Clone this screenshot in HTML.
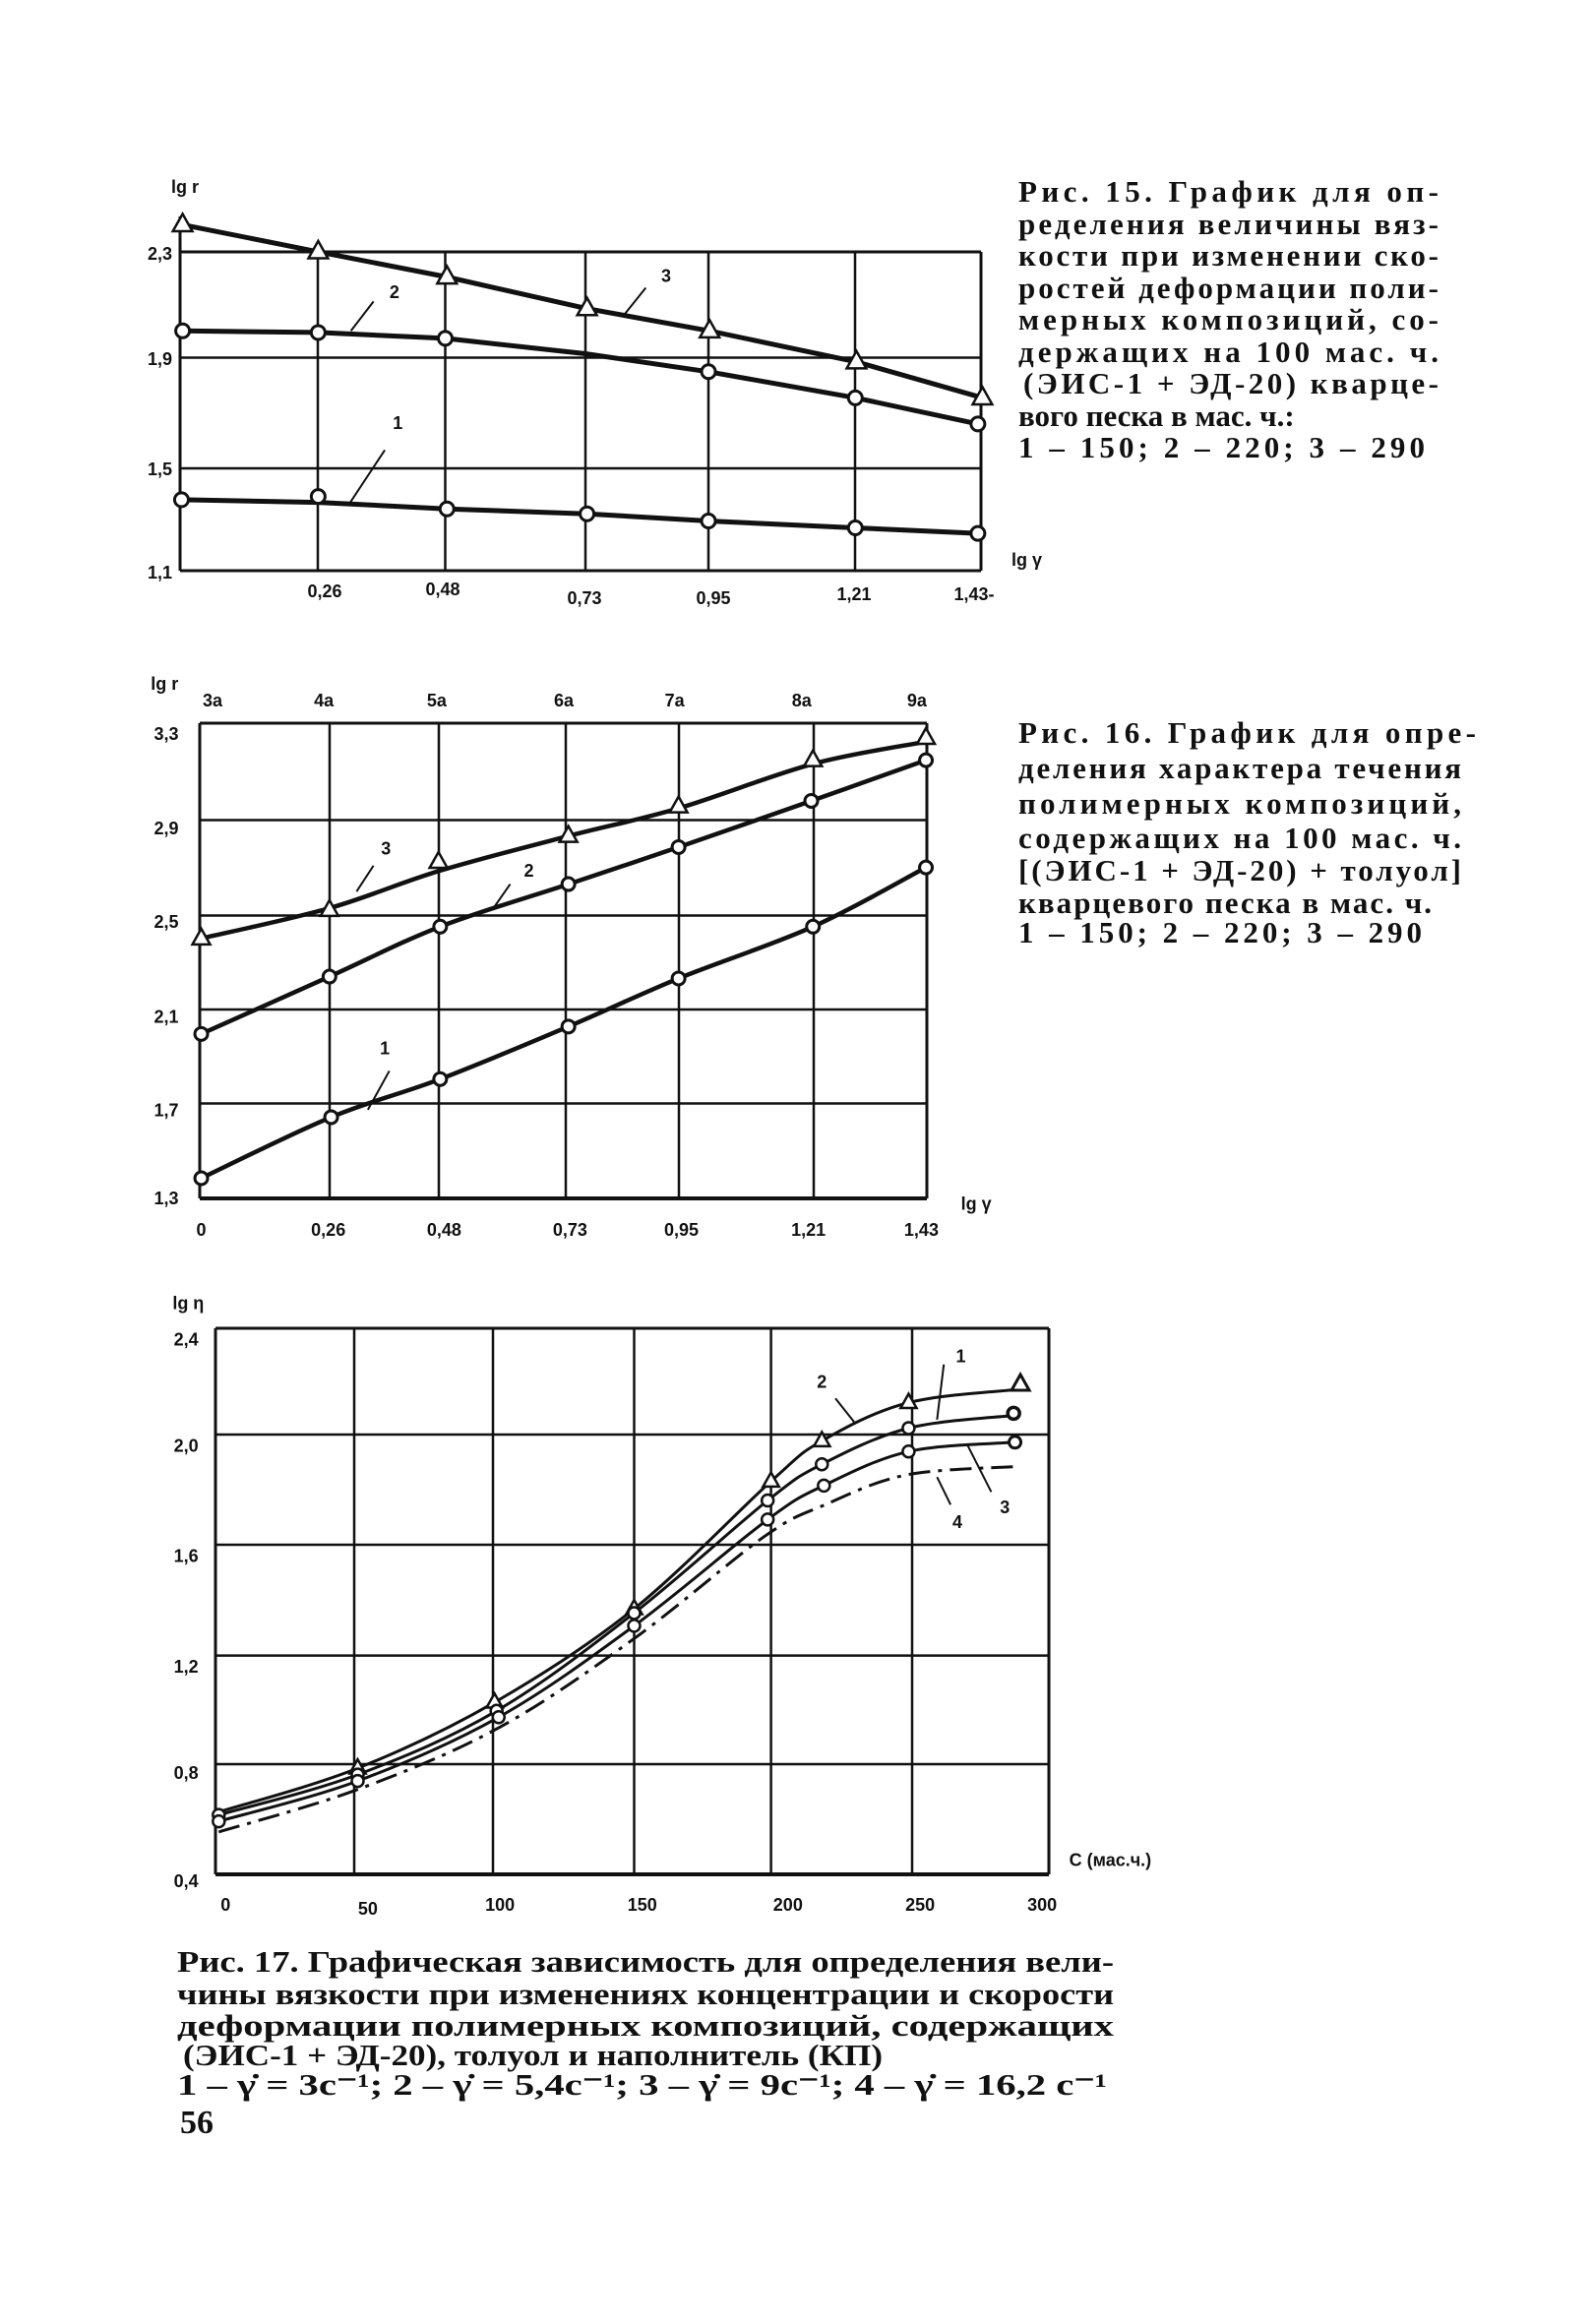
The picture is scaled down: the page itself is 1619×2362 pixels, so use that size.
<!DOCTYPE html>
<html><head><meta charset="utf-8">
<style>
html,body{margin:0;padding:0;background:#fff;}
svg{display:block;}
.cap{font-family:"Liberation Serif","Noto Serif CJK SC",serif;font-weight:bold;font-size:31px;fill:#111;}
.tk{font-family:"Liberation Sans",sans-serif;font-weight:bold;font-size:18px;fill:#111;}
</style></head>
<body>
<svg id="s" width="1619" height="2362" viewBox="0 0 1619 2362" xmlns="http://www.w3.org/2000/svg">
<g class="cap">
<text x="1035" y="205" textLength="427" lengthAdjust="spacing">Рис. 15. График для оп-</text>
<text x="1035" y="238" textLength="427" lengthAdjust="spacing">ределения величины вяз-</text>
<text x="1035" y="270" textLength="427" lengthAdjust="spacing">кости при изменении ско-</text>
<text x="1035" y="303" textLength="427" lengthAdjust="spacing">ростей деформации поли-</text>
<text x="1035" y="335" textLength="427" lengthAdjust="spacing">мерных композиций, со-</text>
<text x="1035" y="368" textLength="427" lengthAdjust="spacing">держащих на 100 мас. ч.</text>
<text x="1040" y="400" textLength="422" lengthAdjust="spacing">(ЭИС-1 + ЭД-20) кварце-</text>
<text x="1035" y="433">вого песка в мас. ч.:</text>
<text x="1035" y="465" textLength="413" lengthAdjust="spacing">1 – 150; 2 – 220; 3 – 290</text>

<text x="1035" y="755" textLength="465" lengthAdjust="spacing">Рис. 16. График для опре-</text>
<text x="1035" y="791" textLength="450" lengthAdjust="spacing">деления характера течения</text>
<text x="1035" y="827" textLength="450" lengthAdjust="spacing">полимерных композиций,</text>
<text x="1035" y="862" textLength="450" lengthAdjust="spacing">содержащих на 100 мас. ч.</text>
<text x="1035" y="895" textLength="450" lengthAdjust="spacing">[(ЭИС-1 + ЭД-20) + толуол]</text>
<text x="1035" y="928" textLength="420" lengthAdjust="spacing">кварцевого песка в мас. ч.</text>
<text x="1035" y="958" textLength="410" lengthAdjust="spacing">1 – 150; 2 – 220; 3 – 290</text>

<text x="180" y="2004" textLength="952" lengthAdjust="spacingAndGlyphs">Рис. 17. Графическая зависимость для определения вели-</text>
<text x="180" y="2037" textLength="952" lengthAdjust="spacingAndGlyphs">чины вязкости при изменениях концентрации и скорости</text>
<text x="180" y="2069" textLength="952" lengthAdjust="spacingAndGlyphs">деформации полимерных композиций, содержащих</text>
<text x="186" y="2099" textLength="711" lengthAdjust="spacingAndGlyphs">(ЭИС-1 + ЭД-20), толуол и наполнитель (КП)</text>
<text x="180" y="2129" textLength="945" lengthAdjust="spacingAndGlyphs">1 – γ̇ = 3с⁻¹; 2 – γ̇ = 5,4с⁻¹; 3 – γ̇ = 9с⁻¹; 4 – γ̇ = 16,2 с⁻¹</text>
<text x="183" y="2168" font-size="34">56</text>
</g>
<g id="g"></g>
</svg>
<script>
var g=document.getElementById('g'),out='';
function T(sx,ox,sy,oy){return function(p){return [ox+p[0]*sx, oy+p[1]*sy];};}
var t1=T(1/1.742,150,0.332,157);
var t2=T(1/1.742,150,0.376,735-155*0.376);
var t3=T(1/1.452,150,0.432,1350-130*0.432);
function line(a,b,w,extra){out+='<line x1="'+a[0]+'" y1="'+a[1]+'" x2="'+b[0]+'" y2="'+b[1]+'" stroke="#111" stroke-width="'+w+'" '+(extra||'')+'/>';}
function poly(pts,w){out+='<polyline fill="none" stroke="#111" stroke-width="'+w+'" stroke-linejoin="round" points="'+pts.map(function(p){return p[0].toFixed(1)+','+p[1].toFixed(1)}).join(' ')+'"/>';}
function smooth(pts,w,dash){var d='M'+pts[0][0]+','+pts[0][1];for(var i=0;i<pts.length-1;i++){var p0=pts[i-1]||pts[i],p1=pts[i],p2=pts[i+1],p3=pts[i+2]||p2;var c1=[p1[0]+(p2[0]-p0[0])/6,p1[1]+(p2[1]-p0[1])/6],c2=[p2[0]-(p3[0]-p1[0])/6,p2[1]-(p3[1]-p1[1])/6];d+=' C'+c1[0].toFixed(1)+','+c1[1].toFixed(1)+' '+c2[0].toFixed(1)+','+c2[1].toFixed(1)+' '+p2[0].toFixed(1)+','+p2[1].toFixed(1);}out+='<path d="'+d+'" fill="none" stroke="#111" stroke-width="'+w+'" '+(dash?'stroke-dasharray="'+dash+'"':'')+'/>';}
function circ(p,r,w){out+='<circle cx="'+p[0]+'" cy="'+p[1]+'" r="'+r+'" fill="#fff" stroke="#111" stroke-width="'+w+'"/>';}
function tri(p,s,w){out+='<polygon points="'+p[0]+','+(p[1]-s)+' '+(p[0]-s*0.9)+','+(p[1]+s*0.6)+' '+(p[0]+s*0.9)+','+(p[1]+s*0.6)+'" fill="#fff" stroke="#111" stroke-width="'+w+'"/>';}
function txt(p,s,anch,fs){out+='<text class="tk" x="'+p[0]+'" y="'+p[1]+'" text-anchor="'+(anch||'middle')+'"'+(fs?' font-size="'+fs+'"':'')+'>'+s+'</text>';}
function M(t,a){return a.map(t);}

/* ---------- Chart 1 ---------- */
var L=183,R=997,Tp=256,B=580;
line([L,220],[L,B],3);line([L,B],[R,B],3);line([R,Tp],[R,B],3);line([L,Tp],[R,Tp],3);
[323,452.5,595,720,869].forEach(function(x){line([x,Tp],[x,B],2.5);});
[363.5,476].forEach(function(y){line([L,y],[R,y],2.5);});
var c3=M(t1,[[62,215],[302,298],[530,375],[778,472],[995,540],[1255,635],[1478,745]]);
var c2=M(t1,[[62,540],[302,545],[527,563],[775,610],[993,665],[1253,745],[1470,825]]);
var c1=M(t1,[[60,1057],[302,1065],[530,1085],[778,1100],[993,1122],[1253,1143],[1470,1160]]);
poly(c3,5);poly(c2,5);poly(c1,5);
c3.forEach(function(p){tri(p,11,2.5);});
c2.forEach(function(p,i){if(i!=3)circ(p,7,3);});
c1.forEach(function(p,i){circ(i==1?[p[0],p[1]-6]:p,7,3);});
line(t1([882,408]),t1([845,488]),2);line(t1([400,450]),t1([360,540]),2);line(t1([420,905]),t1([355,1075]),2);
txt(t1([918,390]),'3');txt(t1([437,440]),'2');txt(t1([443,840]),'1');
txt([188,196],'lg r','middle',16);
txt([175,264],'2,3','end');txt([175,371],'1,9','end');txt([175,483],'1,5','end');txt([175,588],'1,1','end');
[[330,'0,26',607],[450,'0,48',605],[594,'0,73',614],[725,'0,95',614],[868,'1,21',610],[990,'1,43-',610]].forEach(function(a){txt([a[0],a[2]],a[1]);});
txt([1028,575],'lg γ','start',16);

/* ---------- Chart 2 ---------- */
L=203;R=942;Tp=735;B=1218;
line([L,Tp],[L,B],3);line([L,B],[R,B],4);line([R,Tp],[R,B],3);line([L,Tp],[R,Tp],3);
[335,446,575,690,827].forEach(function(x){line([x,Tp],[x,B],2.5);});
[833.5,930.5,1026,1121.5].forEach(function(y){line([L,y],[R,y],2.5);});
var d3=M(t2,[[95,737],[322,660],[515,530],[745,460],[940,380],[1178,255],[1378,195]]);
var d2=M(t2,[[95,995],[322,840],[518,705],[745,590],[940,490],[1175,365],[1378,255]]);
var d1=M(t2,[[95,1385],[325,1220],[518,1117],[745,975],[940,845],[1178,705],[1378,545]]);
var d3l=M(t2,[[95,737],[322,655],[515,555],[745,460],[940,385],[1178,265],[1378,205]]);
smooth(d3l,4.5);smooth(d2,4.5);smooth(d1,4.5);
d3.forEach(function(p){tri(p,10,2.5);});
d2.forEach(function(p){circ(p,6.5,3);});
d1.forEach(function(p){circ(p,6.5,3);});
line(t2([400,540]),t2([370,610]),2);line(t2([642,590]),t2([610,660]),2);line(t2([428,1095]),t2([390,1200]),2);
txt(t2([422,510]),'3');txt(t2([675,570]),'2');txt(t2([420,1050]),'1');
txt(t2([30,65]),'lg r','middle',16);
[[115,'3a'],[312,'4a'],[512,'5a'],[737,'6a'],[933,'7a'],[1158,'8a'],[1362,'9a']].forEach(function(a){txt(t2([a[0],110]),a[1]);});
[[200,'3,3'],[455,'2,9'],[708,'2,5'],[965,'2,1'],[1218,'1,7'],[1455,'1,3']].forEach(function(a){txt(t2([55,a[0]]),a[1],'end');});
[[95,'0'],[320,'0,26'],[525,'0,48'],[748,'0,73'],[945,'0,95'],[1170,'1,21'],[1370,'1,43']].forEach(function(a){txt(t2([a[0],1540]),a[1]);});
txt(t2([1440,1470]),'lg γ','start',16);

/* ---------- Chart 3 ---------- */
L=219;R=1066;Tp=1350;B=1905;
line([L,Tp],[L,B],3);line([L,B],[R,B],4);line([R,Tp],[R,B],3);line([L,Tp],[R,Tp],3);
[360,501,644.5,783.6,927].forEach(function(x){line([x,Tp],[x,B],2.5);});
[1458,1570,1682.6,1793].forEach(function(y){line([L,y],[R,y],2.5);});
var e2=M(t3,[[105,1268],[310,1165],[512,1010],[718,790],[920,490],[995,395],[1123,305],[1300,272]]);
var e1=M(t3,[[105,1275],[310,1180],[515,1030],[718,800],[915,535],[995,450],[1123,365],[1278,335]]);
var e3=M(t3,[[105,1290],[310,1195],[518,1045],[718,830],[915,580],[998,500],[1123,420],[1280,398]]);
var e4=M(t3,[[105,1315],[310,1215],[518,1070],[718,860],[910,620],[1000,545],[1120,475],[1285,455]]);
smooth(e2,3);smooth(e1,3);smooth(e3,3);smooth(e4,3,'22,8,4,8');
[1,2,3,4,5,6].forEach(function(i){tri(e2[i],9,2.5);});
tri(t3([1288,262]),10,3);
[0,1,2,3,4,5,6].forEach(function(i){circ(e1[i],6,2.5);circ(e3[i],6,2.5);});
circ(t3([1278,330]),6,3.5);circ(t3([1280,398]),6,3);
line(t3([1175,215]),t3([1165,345]),2);line(t3([1015,295]),t3([1045,355]),2);line(t3([1245,515]),t3([1210,405]),2);line(t3([1185,545]),t3([1165,480]),2);
txt(t3([1200,210]),'1');txt(t3([995,270]),'2');txt(t3([1265,565]),'3');txt(t3([1195,600]),'4');
txt(t3([60,85]),'lg η','middle',16);
[[170,'2,4'],[420,'2,0'],[680,'1,6'],[940,'1,2'],[1190,'0,8'],[1445,'0,4']].forEach(function(a){txt(t3([75,a[0]]),a[1],'end');});
[[115,'0'],[325,'50'],[520,'100'],[730,'150'],[945,'200'],[1140,'250'],[1320,'300']].forEach(function(a){txt(t3([a[0],a[0]==325?1510:1500]),a[1]);});
txt(t3([1360,1395]),'C (мас.ч.)','start',15);

g.innerHTML=out;
</script>
</body></html>
